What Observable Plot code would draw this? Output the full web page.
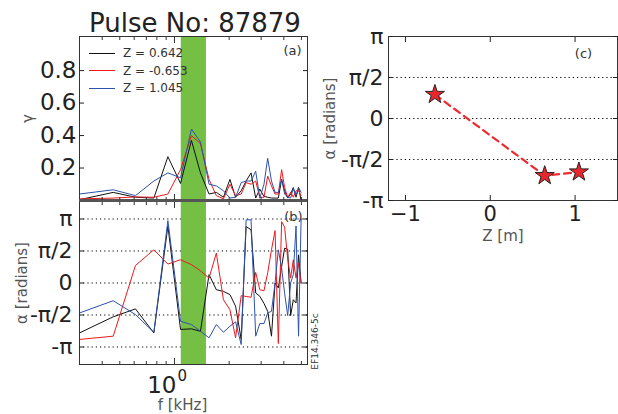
<!DOCTYPE html>
<html><head><meta charset="utf-8">
<script src="https://cdn.jsdelivr.net/npm/d3@7"></script>
<script src="https://cdn.jsdelivr.net/npm/@observablehq/plot@0.6"></script>
<style>
body{margin:0;background:#fff;}
#wrap{position:relative;width:618px;height:414px;overflow:hidden;font-family:"DejaVu Sans";}
#wrap svg{position:absolute;left:0;top:0;overflow:visible;}
.leg{position:absolute;left:89px;height:16px;display:flex;align-items:center;font:12px "DejaVu Sans";color:#333;white-space:nowrap;}
.leg span{display:inline-block;width:26px;height:0;border-top:1.2px solid;margin-right:8px;}
</style></head><body><div id="wrap"></div>
<script>
// ---- data ----
const title = "Pulse No: 87879";
const freq = [0.30,0.46,0.61,0.77,0.92,1.08,1.24,1.39,1.55,1.70,1.86,2.02,2.17,2.33,2.48,2.64,2.80,2.95,3.11,3.26,3.42,3.58,3.73,3.89,4.04,4.20,4.36,4.51,4.67,4.82,4.98];
const seriesNames = ["Z = 0.642","Z = -0.653","Z = 1.045"];
const seriesColors = ["#111111","#f0181c","#2d52ad"];
const gamma0642 = [0.005,0.05,0.02,0.015,0.27,0.105,0.37,0.17,0.04,0.05,0.02,0.13,0.02,0.06,0.12,0.17,0.015,0.07,0.025,0.02,0.015,0.015,0.015,0.13,0.06,0.015,0.04,0.08,0.02,0.08,0.0];
const gammaM0653 = [0.01,0.015,0.022,0.02,0.04,0.19,0.40,0.35,0.13,0.03,0.01,0.10,0.03,0.04,0.11,0.10,0.12,0.02,0.02,0.15,0.09,0.04,0.04,0.19,0.08,0.02,0.05,0.02,0.06,0.06,0.03];
const gamma1045 = [0.04,0.066,0.03,0.12,0.17,0.14,0.44,0.36,0.10,0.09,0.06,0.015,0.02,0.11,0.12,0.12,0.18,0.015,0.10,0.26,0.12,0.05,0.05,0.13,0.04,0.02,0.015,0.075,0.03,0.08,0.05];
const alpha0642 = [-2.45,-1.66,-1.27,-2.45,2.80,-2.28,-2.25,-2.37,0.41,-0.33,-0.41,-0.57,-1.14,-2.77,2.77,2.61,-0.49,-0.65,-1.0,-1.39,-2.61,0.0,-0.24,0.8,1.71,1.66,-1.6,-0.82,-0.98,1.38,0.0];
const alphaM0653 = [-2.77,-2.61,0.86,1.63,0.93,1.14,0.90,0.60,0.24,1.47,-0.82,-1.31,-2.69,-0.62,-0.66,-0.70,0.52,-0.33,-0.38,0.5,1.63,2.57,-2.97,3.01,2.74,1.2,0.24,1.14,0.24,0.98,0.0];
const alpha1045 = [-1.47,-0.87,-1.55,-2.42,3.06,-1.88,-2.04,-2.37,-2.69,-2.04,-2.42,-2.12,-1.91,-3.02,3.10,3.10,-2.61,-1.99,-1.99,-1.47,-1.39,0.0,1.63,0.73,-0.5,-1.6,0.0,0.41,2.80,-2.61,3.13];
const bandLo = [1.09], bandHi = [1.50];
const zPos = [-0.653, 0.642, 1.045];
const alphaZ = [0.92, -2.19, -2.05];
const gammaTicks = [0.2,0.4,0.6,0.8];
const piTicks = [-Math.PI,-Math.PI/2,0,Math.PI/2,Math.PI];
const piLabels = ["-π","-π/2","0","π/2","π"];
const fMajor = [1];
const fMinor = [0.4,0.5,0.6,0.7,0.8,0.9,2,3,4,5];
const zTicks = [-1,0,1];
const zLabels = ["−1","0","1"];

// ---- build ----
const gammas = [gamma0642, gammaM0653, gamma1045];
const alphas = [alpha0642, alphaM0653, alpha1045];
const band = bandLo.map((lo,i)=>({lo, hi: bandHi[i]}));
const rows = (arr) => freq.map((f,i)=>({f, v: arr[i]}));
const stars = zPos.map((z,i)=>({z, a: alphaZ[i]}));
const FONT = "DejaVu Sans";
const TC = "#222";
const TICKFS = 22;
const xLog = {type:"log", domain:[0.3,5.4]};
const lbl = (s, o) => Plot.text([s], {text:d=>d, lineAnchor:"middle", textAnchor:"middle", ...o});
const inTicksX = (anchors) => anchors.flatMap(an => [
  Plot.axisX({ticks:fMinor, anchor:an, tickSize:-3, tickFormat:()=>"", label:null, stroke:"#333"}),
  Plot.axisX({ticks:fMajor, anchor:an, tickSize:-6, tickFormat:()=>"", label:null, stroke:"#333"})
]);

const pa = Plot.plot({
  width:320, height:202, marginLeft:79, marginRight:13, marginTop:36, marginBottom:2,
  style:{background:"transparent", fontFamily:FONT, color:TC},
  x: xLog, y:{domain:[0,1.01]},
  marks:[
    Plot.rect(band,{x1:"lo",x2:"hi",fill:"#74bf44"}),
    ...gammas.map((g,k)=>Plot.line(rows(g),{x:"f",y:"v",stroke:seriesColors[k],strokeWidth:1})),
    Plot.frame({stroke:"#333"}),
    Plot.ruleY([0],{stroke:"#555",strokeWidth:3}),
    Plot.axisY({ticks:gammaTicks, anchor:"left", tickSize:0, tickPadding:3, fontSize:TICKFS+1, tickFormat:d=>d.toFixed(1), label:null}),
    Plot.axisY({ticks:gammaTicks, anchor:"left", tickSize:-5, tickFormat:()=>"", label:null}),
    Plot.axisY({ticks:gammaTicks, anchor:"right", tickSize:-5, tickFormat:()=>"", label:null}),
    ...inTicksX(["bottom","top"]),
    lbl("γ",{frameAnchor:"left", dx:-51, rotate:-90, fontSize:15, fill:"#555"}),
    lbl("(a)",{frameAnchor:"top-right", dx:-15, dy:14, fontSize:13, fill:"#333"}),
    lbl(title,{frameAnchor:"top", dx:1.5, dy:-12.5, fontSize:26, fill:"#222"})
  ]
});

const pb = Plot.plot({
  width:320, height:414, marginLeft:79, marginRight:13, marginTop:201, marginBottom:50,
  style:{background:"transparent", fontFamily:FONT, color:TC},
  x: xLog, y:{domain:[-4,4]},
  marks:[
    Plot.ruleY(piTicks,{stroke:"#000",strokeWidth:1,strokeDasharray:"1.2,3"}),
    Plot.rect(band,{x1:"lo",x2:"hi",fill:"#74bf44"}),
    ...alphas.map((a,k)=>Plot.line(rows(a),{x:"f",y:"v",stroke:seriesColors[k],strokeWidth:1})),
    Plot.frame({stroke:"#333"}),
    Plot.axisY({ticks:piTicks, anchor:"left", tickSize:0, tickPadding:7, fontSize:TICKFS, tickFormat:d=>piLabels[piTicks.indexOf(d)], label:null}),
    Plot.axisY({ticks:piTicks, anchor:"left", tickSize:-5, tickFormat:()=>"", label:null}),
    Plot.axisY({ticks:piTicks, anchor:"right", tickSize:-5, tickFormat:()=>"", label:null}),
    ...inTicksX(["bottom","top"]),
    Plot.text(fMajor,{x:d=>d, text:()=>"10", frameAnchor:"bottom", lineAnchor:"middle", textAnchor:"end", dx:2, dy:21.5, fontSize:23, fill:TC}),
    Plot.text(fMajor,{x:d=>d, text:()=>"0", frameAnchor:"bottom", lineAnchor:"middle", textAnchor:"start", dx:3, dy:12, fontSize:15, fill:TC}),
    lbl("f [kHz]",{frameAnchor:"bottom", dx:-11, dy:41, fontSize:15, fill:"#555"}),
    lbl("α [radians]",{frameAnchor:"left", dx:-57, rotate:-90, fontSize:15, fill:"#555"}),
    lbl("(b)",{frameAnchor:"top-right", dx:-14, dy:15, fontSize:13, fill:"#333"}),
    lbl("EF14.346-5c",{frameAnchor:"right", dx:8, dy:58.5, rotate:-90, fontSize:9, fill:"#333"})
  ]
});

const pc = Plot.plot({
  width:618, height:260, marginLeft:388, marginRight:1, marginTop:36, marginBottom:60,
  style:{background:"transparent", fontFamily:FONT, color:TC},
  x:{domain:[-1.2,1.5]}, y:{domain:[-Math.PI,Math.PI]},
  marks:[
    Plot.ruleY(piTicks.slice(1,4),{stroke:"#000",strokeWidth:1,strokeDasharray:"1.2,3"}),
    Plot.line(stars,{x:"z",y:"a",stroke:"#ee2a2f",strokeWidth:2.2,strokeDasharray:"7,5"}),
    Plot.dot(stars,{x:"z",y:"a",symbol:"star",r:6,fill:"#e8262c",stroke:"#222",strokeWidth:1}),
    Plot.frame({stroke:"#333"}),
    Plot.axisX({ticks:zTicks, anchor:"bottom", tickSize:0, tickPadding:6, fontSize:21, tickFormat:d=>zLabels[zTicks.indexOf(d)], label:null}),
    Plot.axisX({ticks:zTicks, anchor:"bottom", tickSize:-5, tickFormat:()=>"", label:null}),
    Plot.axisX({ticks:zTicks, anchor:"top", tickSize:-5, tickFormat:()=>"", label:null}),
    Plot.axisY({ticks:piTicks, anchor:"left", tickSize:0, tickPadding:5, fontSize:TICKFS, tickFormat:d=>piLabels[piTicks.indexOf(d)], label:null}),
    Plot.axisY({ticks:piTicks, anchor:"left", tickSize:-5, tickFormat:()=>"", label:null}),
    Plot.axisY({ticks:piTicks, anchor:"right", tickSize:-5, tickFormat:()=>"", label:null}),
    lbl("Z [m]",{frameAnchor:"bottom", dy:36, fontSize:15, fill:"#555"}),
    lbl("α [radians]",{frameAnchor:"left", dx:-58, rotate:-90, fontSize:15, fill:"#555"}),
    lbl("(c)",{frameAnchor:"top-right", dx:-34, dy:17, fontSize:13, fill:"#333"})
  ]
});

const wrap = document.getElementById("wrap");
wrap.append(pb, pa, pc);
const legY = [53, 70.5, 88];
seriesNames.forEach((n,i)=>{
  const d = document.createElement("div");
  d.className = "leg";
  d.style.top = (legY[i]-8)+"px";
  const s = document.createElement("span");
  s.style.borderTopColor = seriesColors[i];
  d.append(s, document.createTextNode(n));
  wrap.append(d);
});
</script></body></html>
